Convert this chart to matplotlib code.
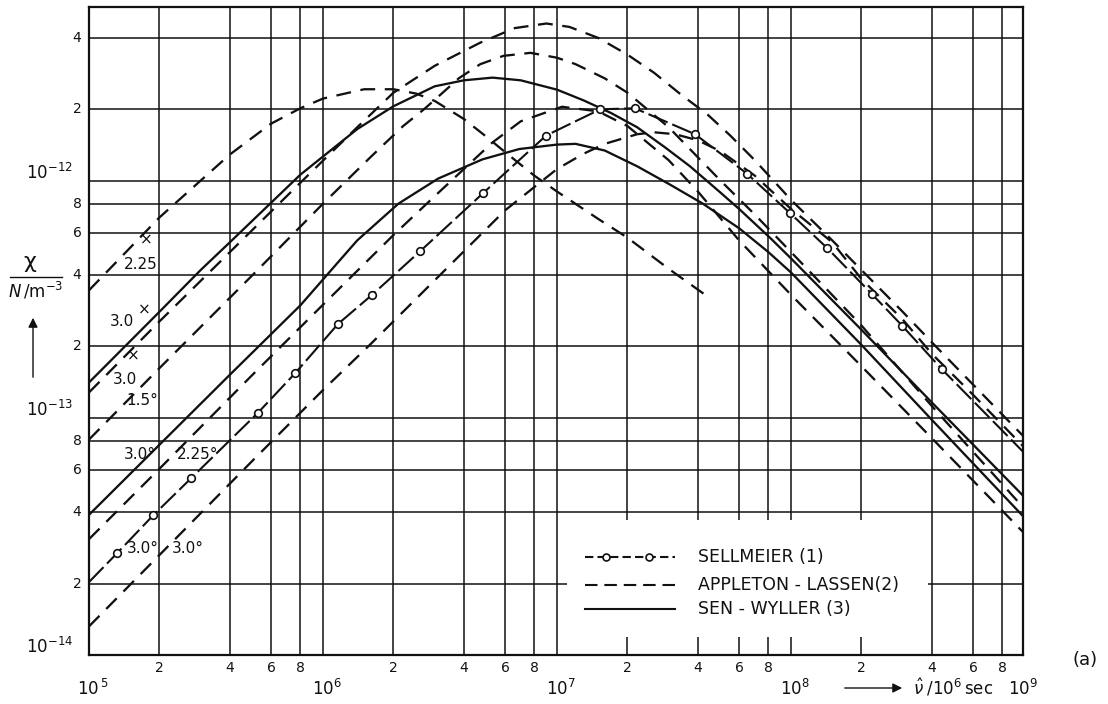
import matplotlib
matplotlib.use("Agg")
import matplotlib.pyplot as plt
from matplotlib.patches import Rectangle
from matplotlib.lines import Line2D
from matplotlib.ticker import NullLocator

plt.rcParams['font.family'] = ['DejaVu Sans']
plt.rcParams['mathtext.fontset'] = 'dejavusans'

# ---- curves (nu in 1/sec, chi per electron density) ----
# Appleton-Lassen, 2.25 (x)
nu_al_225x = [1e5, 2e5, 4e5, 6e5, 8e5, 1e6, 1.5e6, 2e6, 2.5e6, 3e6, 4e6, 5e6, 6e6, 8e6,
              1e7, 1.5e7, 2e7, 3e7, 4.3e7]
chi_al_225x = [3.45e-13, 7.0e-13, 1.29e-12, 1.74e-12, 2.02e-12, 2.22e-12, 2.43e-12, 2.43e-12,
               2.33e-12, 2.17e-12, 1.82e-12, 1.53e-12, 1.32e-12, 1.05e-12, 9.0e-13, 6.9e-13,
               5.75e-13, 4.25e-13, 3.3e-13]

# Appleton-Lassen, 3.0 (x)
nu_al_30x = [1e5, 2e5, 4e5, 8e5, 1.4e6, 2e6, 3e6, 4.7e6, 6.6e6, 9e6, 1.13e7, 1.5e7, 2e7, 2.6e7,
             3.4e7, 4.4e7, 5.5e7, 7e7, 1e8, 1.5e8, 2e8, 3e8, 4e8, 6e8, 9.8e8]
chi_al_30x = [1.28e-13, 2.55e-13, 5.0e-13, 9.8e-13, 1.68e-12, 2.35e-12, 3.05e-12, 3.82e-12,
              4.4e-12, 4.6e-12, 4.45e-12, 4.0e-12, 3.4e-12, 2.85e-12, 2.3e-12, 1.9e-12, 1.55e-12,
              1.22e-12, 8.3e-13, 5.6e-13, 4.2e-13, 2.8e-13, 2.08e-13, 1.38e-13, 8.4e-14]

# Sen-Wyller, 3.0 (x)
nu_sw_30x = [1e5, 2e5, 3e5, 4e5, 8e5, 1.4e6, 2e6, 3e6, 4e6, 5.3e6, 7e6, 1e7, 1.3e7, 1.7e7,
             2.2e7, 2.9e7, 3.7e7, 5e7, 6e7, 8.2e7, 1e8, 2e8, 4e8, 9.8e8]
chi_sw_30x = [1.41e-13, 2.8e-13, 4.2e-13, 5.5e-13, 1.06e-12, 1.65e-12, 2.06e-12, 2.5e-12,
              2.65e-12, 2.72e-12, 2.65e-12, 2.42e-12, 2.18e-12, 1.93e-12, 1.68e-12, 1.38e-12,
              1.15e-12, 8.9e-13, 7.6e-13, 5.7e-13, 4.7e-13, 2.35e-13, 1.16e-13, 4.7e-14]

# Appleton-Lassen, 1.5 (o)
nu_al_15o = [1e5, 2e5, 5e5, 1e6, 1.6e6, 2.2e6, 2.7e6, 3.2e6, 3.8e6, 4.7e6, 5.9e6, 7.7e6, 1e7,
             1.2e7, 1.6e7, 2e7, 3e7, 5e7, 7e7, 1e8, 2e8, 4e8, 9.8e8]
chi_al_15o = [8.1e-14, 1.62e-13, 4.0e-13, 8.0e-13, 1.26e-12, 1.7e-12, 2.0e-12, 2.32e-12, 2.7e-12,
              3.1e-12, 3.36e-12, 3.46e-12, 3.3e-12, 3.1e-12, 2.7e-12, 2.35e-12, 1.68e-12, 1.0e-12,
              7.2e-13, 5.0e-13, 2.45e-13, 1.12e-13, 4.2e-14]

# Sen-Wyller, 3.0 (o)
nu_sw_30o = [1e5, 2e5, 4e5, 8e5, 1.4e6, 2.1e6, 3.1e6, 4.8e6, 6.9e6, 1e7, 1.2e7, 1.6e7, 2.2e7,
             3e7, 4.2e7, 6e7, 8e7, 1e8, 2e8, 4e8, 9.8e8]
chi_sw_30o = [3.9e-14, 7.7e-14, 1.52e-13, 2.98e-13, 5.6e-13, 8.0e-13, 1.02e-12, 1.23e-12,
              1.36e-12, 1.42e-12, 1.43e-12, 1.34e-12, 1.15e-12, 9.7e-13, 8.0e-13, 6.3e-13,
              5.0e-13, 4.1e-13, 2.03e-13, 9.8e-14, 3.85e-14]

# Appleton-Lassen, 2.25 (o)
nu_al_225o = [1e5, 2e5, 5e5, 1e6, 2e6, 3e6, 4e6, 5.3e6, 7e6, 1.05e7, 1.5e7, 2e7, 3e7, 4e7, 6e7,
              1e8, 2e8, 4e8, 9.8e8]
chi_al_225o = [3.08e-14, 6.1e-14, 1.52e-13, 3.0e-13, 5.9e-13, 8.6e-13, 1.12e-12, 1.45e-12,
               1.78e-12, 2.05e-12, 1.96e-12, 1.7e-12, 1.22e-12, 9.0e-13, 5.6e-13, 3.3e-13,
               1.65e-13, 8.2e-14, 3.3e-14]

# Sellmeier, 3.0 (o) -- circles are the computed points
nu_sm_30o = [1e5, 1.32e5, 1.88e5, 2.73e5, 5.27e5, 7.59e5, 1.16e6, 1.62e6, 2.6e6, 4.83e6, 8.98e6,
             1.53e7, 2.15e7, 3.89e7, 6.49e7, 9.9e7, 1.43e8, 2.22e8, 2.98e8, 4.42e8, 9.8e8]
chi_sm_30o = [2.03e-14, 2.69e-14, 3.88e-14, 5.56e-14, 1.05e-13, 1.54e-13, 2.49e-13, 3.3e-13,
              5.04e-13, 8.86e-13, 1.55e-12, 2.0e-12, 2.02e-12, 1.57e-12, 1.07e-12, 7.3e-13,
              5.19e-13, 3.32e-13, 2.45e-13, 1.6e-13, 7.2e-14]

# Appleton-Lassen, 3.0 (o)
nu_al_30o = [1e5, 2e5, 5e5, 1e6, 1.6e6, 3e6, 6e6, 1e7, 1.3e7, 1.6e7, 2.2e7, 2.6e7, 3.2e7, 4e7,
             5e7, 7e7, 1e8, 1.5e8, 2e8, 3e8, 4e8, 6e8, 9.8e8]
chi_al_30o = [1.32e-14, 2.64e-14, 6.6e-14, 1.31e-13, 2.05e-13, 3.8e-13, 7.5e-13, 1.12e-12,
              1.3e-12, 1.43e-12, 1.57e-12, 1.6e-12, 1.57e-12, 1.48e-12, 1.33e-12, 1.05e-12,
              7.6e-13, 5.5e-13, 3.85e-13, 2.6e-13, 1.86e-13, 1.25e-13, 7.6e-14]

# grid positions
grid_x = [2e5, 4e5, 6e5, 8e5, 1e6, 2e6, 4e6, 6e6, 8e6, 1e7, 2e7, 4e7, 6e7, 8e7, 1e8,
          2e8, 4e8, 6e8, 8e8]
grid_y = [2e-14, 4e-14, 6e-14, 8e-14, 1e-13, 2e-13, 4e-13, 6e-13, 8e-13, 1e-12, 2e-12, 4e-12]

x_minor_labels = ['2', '4', '6', '8']
x_decades = [1e5, 1e6, 1e7, 1e8]
x_decade_labels = [r'$10^{\,5}$', r'$10^{6}$', r'$10^{7}$', r'$10^{8}$']
y_decades = [1e-14, 1e-13, 1e-12]
y_decade_labels = [r'$10^{-14}$', r'$10^{-13}$', r'$10^{-12}$']

curve_labels = [  # (text, nu, chi)
    ('2.25', 1.67e5, 4.45e-13), ('×', 1.75e5, 5.6e-13),
    ('3.0', 1.38e5, 2.55e-13), ('×', 1.72e5, 2.85e-13),
    ('3.0', 1.42e5, 1.45e-13), ('×', 1.54e5, 1.83e-13),
    ('1.5°', 1.69e5, 1.18e-13),
    ('3.0°', 1.65e5, 7.0e-14), ('2.25°', 2.9e5, 7.0e-14),
    ('3.0°', 1.7e5, 2.8e-14), ('3.0°', 2.65e5, 2.8e-14),
]

ink = '#111111'
dash_al = (0, (6.5, 4.2))
dash_sm = (0, (10, 2.4))

fig = plt.figure(figsize=(11.08, 7.04), dpi=100)
ax = fig.add_axes([89 / 1108, 49 / 704, 934 / 1108, 648 / 704])
ax.set_xscale('log')
ax.set_yscale('log')
ax.set_xlim(1e5, 9.8e8)
ax.set_ylim(1e-14, 5.4e-12)
for axis in (ax.xaxis, ax.yaxis):
    axis.set_major_locator(NullLocator())
    axis.set_minor_locator(NullLocator())
for s in ax.spines.values():
    s.set_linewidth(1.6)
    s.set_color(ink)

for gx in grid_x:
    ax.axvline(gx, color=ink, lw=1.1, zorder=1)
for gy in grid_y:
    ax.axhline(gy, color=ink, lw=1.1, zorder=1)

# blank area for the key
ax.add_patch(Rectangle((0.512, 0.028), 0.386, 0.18, transform=ax.transAxes,
                       facecolor='white', edgecolor='none', zorder=2))

lw = 1.65
ax.plot(nu_al_225x, chi_al_225x, color=ink, lw=lw, ls=dash_al, zorder=3)
ax.plot(nu_al_30x, chi_al_30x, color=ink, lw=lw, ls=dash_al, zorder=3)
ax.plot(nu_sw_30x, chi_sw_30x, color=ink, lw=lw, ls='-', zorder=3)
ax.plot(nu_al_15o, chi_al_15o, color=ink, lw=lw, ls=dash_al, zorder=3)
ax.plot(nu_sw_30o, chi_sw_30o, color=ink, lw=lw, ls='-', zorder=3)
ax.plot(nu_al_225o, chi_al_225o, color=ink, lw=lw, ls=dash_al, zorder=3)
ax.plot(nu_al_30o, chi_al_30o, color=ink, lw=lw, ls=dash_al, zorder=3)
ax.plot(nu_sm_30o, chi_sm_30o, color=ink, lw=1.5, ls=dash_sm, zorder=3,
        marker='o', ms=5.5, mfc='white', mec=ink, mew=1.2,
        markevery=list(range(1, len(nu_sm_30o) - 1)))

for txt, x, y in curve_labels:
    ax.text(x, y, txt, fontsize=11, ha='center', va='center', color=ink, zorder=4)

# tick labels
xt = ax.get_xaxis_transform()
for d in x_decades:
    for m, lab in zip([2, 4, 6, 8], x_minor_labels):
        ax.text(d * m, -0.02, lab, transform=xt, ha='center', va='center', fontsize=10, color=ink)
for d, lab in zip(x_decades, x_decade_labels):
    ax.text(d * 1.04, -0.052, lab, transform=xt, ha='center', va='center', fontsize=12, color=ink)
ax.text(9.8e8, -0.052, r'$10^{9}$', transform=xt, ha='center', va='center', fontsize=12, color=ink)

yt = ax.get_yaxis_transform()
for d in y_decades[:-1]:
    for m, lab in zip([2, 4, 6, 8], x_minor_labels):
        ax.text(-0.008, d * m, lab, transform=yt, ha='right', va='center', fontsize=10, color=ink)
ax.text(-0.008, 2e-12, '2', transform=yt, ha='right', va='center', fontsize=10, color=ink)
ax.text(-0.008, 4e-12, '4', transform=yt, ha='right', va='center', fontsize=10, color=ink)
for d, lab in zip(y_decades, y_decade_labels):
    ax.text(-0.017, d * 1.08, lab, transform=yt, ha='right', va='center', fontsize=12, color=ink)

# key
kx0, kx1, ktx = 0.531, 0.627, 0.652
rows = [0.151, 0.108, 0.071]
ax.plot([kx0, 0.553, 0.600, kx1], [rows[0]] * 4, transform=ax.transAxes, color=ink, lw=1.5,
        ls=(0, (4, 2)), marker='o', ms=5, mfc='white', mec=ink, mew=1.2, markevery=[1, 2], zorder=4)
ax.plot([kx0, kx1], [rows[1]] * 2, transform=ax.transAxes, color=ink, lw=1.5, ls=(0, (6, 3.3)), zorder=4)
ax.plot([kx0, kx1], [rows[2]] * 2, transform=ax.transAxes, color=ink, lw=1.5, ls='-', zorder=4)
for r, lab in zip(rows, ['SELLMEIER (1)', 'APPLETON - LASSEN(2)', 'SEN - WYLLER (3)']):
    ax.text(ktx, r, lab, transform=ax.transAxes, ha='left', va='center', fontsize=12.5, color=ink, zorder=4)

# y label
fig.text(30 / 1108, 1 - 262 / 704, 'χ', fontsize=16, ha='center', va='center', color=ink)
fig.add_artist(Line2D([10 / 1108, 62 / 1108], [1 - 277 / 704] * 2, color=ink, lw=1.0))
fig.text(36 / 1108, 1 - 291 / 704, r'$N\,/\mathrm{m}^{-3}$', fontsize=12, ha='center', va='center', color=ink)
ax.annotate('', xy=(33 / 1108, 1 - 315 / 704), xytext=(33 / 1108, 1 - 380 / 704),
            xycoords='figure fraction', textcoords='figure fraction', annotation_clip=False,
            arrowprops=dict(arrowstyle='-|>', lw=1.0, color=ink, mutation_scale=14))

# x label
ax.annotate('', xy=(905 / 1108, 1 - 688 / 704), xytext=(842 / 1108, 1 - 688 / 704),
            xycoords='figure fraction', textcoords='figure fraction', annotation_clip=False,
            arrowprops=dict(arrowstyle='-|>', lw=1.0, color=ink, mutation_scale=14))
fig.text(913 / 1108, 1 - 688 / 704, r'$\hat{\nu}\;/10^{6}\,$sec', fontsize=12, ha='left',
         va='center', color=ink)

fig.text(1085 / 1108, 1 - 660 / 704, '(a)', fontsize=13, ha='center', va='center', color=ink)

fig.savefig('out.png', dpi=100, facecolor='white')
